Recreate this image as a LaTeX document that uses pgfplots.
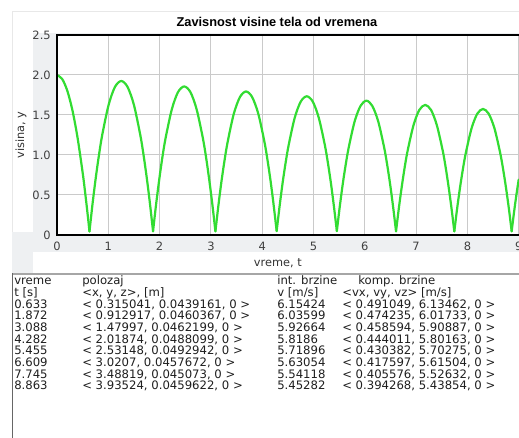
\documentclass[border=0pt]{standalone}
\usepackage{fontspec}
\setmainfont{DejaVu Sans}
\newfontfamily\titlefont{Liberation Sans}
\usepackage{pgfplots}
\pgfplotsset{compat=1.18}
\definecolor{panelgray}{RGB}{238,240,242}
\definecolor{curvegreen}{RGB}{50,220,50}
\definecolor{gridgray}{RGB}{202,202,202}
\newcommand{\tablefont}{\fontsize{8.75}{8.75}\selectfont}
\pgfplotsset{curvestyle/.style={curvegreen, line width=1.65pt, smooth, line join=round, line cap=round, mark=none}}
\begin{document}
\begin{tikzpicture}[x=0.75pt,y=0.75pt]
\useasboundingbox (0,0) rectangle (519,438);
\fill[white] (0,0) rectangle (519,438);
% faint outer frame
\draw[black!9, line width=0.75pt] (12,426) -- (519,426);
\draw[black!9, line width=0.75pt] (12,426) -- (12,164);
% gray panel
\fill[panelgray] (33,405) rectangle (519,186);
\fill[panelgray] (12,206) rectangle (519,163);
\fill[white] (33,186) rectangle (519,165);
\begin{axis}[
  at={(42.75pt,152.25pt)}, anchor=origin, scale only axis,
  width=346.5pt, height=150pt,
  xmin=0, xmax=9.006, ymin=0, ymax=2.5,
  clip=false,
  axis line style={draw=none},
  axis background/.style={fill=white},
  grid=major,
  major grid style={gridgray, line width=0.75pt},
  major tick length=0pt,
  tick style={draw=none},
  xtick={0,1,2,3,4,5,6,7,8,9},
  ytick={0,0.5,1,1.5,2,2.5},
  yticklabels={0,0.5,1.0,1.5,2.0,2.5},
  /pgf/number format/assume math mode=true,
  ticklabel style={font=\fontsize{8.6}{10}\selectfont, text=black!75},
  xticklabel style={anchor=north, inner sep=0pt, yshift=-5.2pt},
  yticklabel style={anchor=east, inner sep=0pt, xshift=-4.5pt},
  title={\titlefont\bfseries Zavisnost visine tela od vremena},
  every axis title/.style={at={(axis description cs:0.476,1.065)}, anchor=center, inner sep=0pt, font=\fontsize{9.6}{11}\selectfont},
  xlabel={vreme, t},
  every axis x label/.style={at={(axis description cs:0.478,-0.14)}, anchor=center, inner sep=0pt, font=\fontsize{8.5}{10}\selectfont, text=black!80},
  ylabel={visina, y},
  every axis y label/.style={at={(axis description cs:-0.078,0.5)}, anchor=center, rotate=90, inner sep=0pt, font=\fontsize{8.5}{10}\selectfont, text=black!80},
]
\addplot[curvestyle] coordinates {(0,2.0) (0.1,1.951) (0.2,1.805) (0.3,1.561) (0.4,1.219) (0.5,0.780) (0.55,0.523) (0.6,0.243) (0.633,0.044)};
\addplot[curvestyle] coordinates {(0.633,0.044) (0.695,0.401) (0.757,0.721) (0.819,1.003) (0.881,1.248) (1.005,1.624) (1.129,1.850) (1.253,1.925) (1.376,1.850) (1.500,1.625) (1.624,1.249) (1.686,1.005) (1.748,0.723) (1.810,0.403) (1.872,0.046)};
\addplot[curvestyle] coordinates {(1.872,0.046) (1.933,0.390) (1.994,0.698) (2.054,0.970) (2.115,1.205) (2.237,1.568) (2.358,1.785) (2.480,1.857) (2.602,1.785) (2.723,1.568) (2.845,1.205) (2.906,0.970) (2.966,0.698) (3.027,0.390) (3.088,0.046)};
\addplot[curvestyle] coordinates {(3.088,0.046) (3.148,0.378) (3.207,0.675) (3.267,0.937) (3.327,1.165) (3.446,1.514) (3.566,1.724) (3.685,1.794) (3.804,1.724) (3.924,1.515) (4.043,1.166) (4.103,0.939) (4.163,0.677) (4.222,0.380) (4.282,0.049)};
\addplot[curvestyle] coordinates {(4.282,0.049) (4.341,0.369) (4.399,0.656) (4.458,0.909) (4.517,1.128) (4.634,1.465) (4.751,1.667) (4.869,1.734) (4.986,1.667) (5.103,1.465) (5.220,1.128) (5.279,0.909) (5.338,0.656) (5.396,0.369) (5.455,0.049)};
\addplot[curvestyle] coordinates {(5.455,0.049) (5.513,0.359) (5.570,0.636) (5.628,0.880) (5.686,1.092) (5.801,1.418) (5.917,1.614) (6.032,1.679) (6.147,1.613) (6.263,1.417) (6.378,1.091) (6.436,0.879) (6.494,0.634) (6.551,0.356) (6.609,0.046)};
\addplot[curvestyle] coordinates {(6.609,0.046) (6.666,0.346) (6.723,0.615) (6.779,0.852) (6.836,1.057) (6.950,1.373) (7.063,1.563) (7.177,1.626) (7.291,1.563) (7.404,1.373) (7.518,1.057) (7.575,0.851) (7.631,0.614) (7.688,0.345) (7.745,0.045)};
\addplot[curvestyle] coordinates {(7.745,0.045) (7.801,0.336) (7.857,0.596) (7.913,0.826) (7.969,1.025) (8.080,1.331) (8.192,1.515) (8.304,1.576) (8.416,1.515) (8.528,1.332) (8.639,1.026) (8.695,0.827) (8.751,0.597) (8.807,0.337) (8.863,0.046)};
\addplot[curvestyle] coordinates {(8.863,0.046) (8.893,0.203) (8.923,0.352) (8.953,0.491) (8.983,0.622) (9.000,0.692)};
\draw[black, line width=1.7pt, line join=miter] (rel axis cs:1,1) -- (rel axis cs:0,1) -- (rel axis cs:0,0) -- (rel axis cs:1,0);
\end{axis}
% table box
\draw[black!35, line width=1.5pt] (12,164) -- (519,164);
\draw[black!60, line width=0.75pt] (12,164.5) -- (12,0);
\node[anchor=north west, inner sep=0pt, align=left, font=\tablefont, text=black!88] at (14,162.8)
 {\rule{0pt}{7pt}vreme\\t [s]\\0.633\\1.872\\3.088\\4.282\\5.455\\6.609\\7.745\\8.863};
\node[anchor=north west, inner sep=0pt, align=left, font=\tablefont, text=black!88] at (82,162.8)
 {\rule{0pt}{7pt}polozaj\\<x, y, z>, [m]\\< 0.315041, 0.0439161, 0 >\\< 0.912917, 0.0460367, 0 >\\< 1.47997, 0.0462199, 0 >\\< 2.01874, 0.0488099, 0 >\\< 2.53148, 0.0492942, 0 >\\< 3.0207, 0.0457672, 0 >\\< 3.48819, 0.045073, 0 >\\< 3.93524, 0.0459622, 0 >};
\node[anchor=north west, inner sep=0pt, align=left, font=\tablefont, text=black!88] at (277,162.8)
 {\rule{0pt}{7pt}int. brzine\\v [m/s]\\6.15424\\6.03599\\5.92664\\5.8186\\5.71896\\5.63054\\5.54118\\5.45282};
\node[anchor=base west, inner sep=0pt, font=\tablefont, text=black!88] at (358,153.47) {komp. brzine};
\node[anchor=north west, inner sep=0pt, align=left, font=\tablefont, text=black!88] at (342,151.13)
 {\rule{0pt}{7pt}<vx, vy, vz> [m/s]\\< 0.491049, 6.13462, 0 >\\< 0.474235, 6.01733, 0 >\\< 0.458594, 5.90887, 0 >\\< 0.444011, 5.80163, 0 >\\< 0.430382, 5.70275, 0 >\\< 0.417597, 5.61504, 0 >\\< 0.405576, 5.52632, 0 >\\< 0.394268, 5.43854, 0 >};
\end{tikzpicture}
\end{document}
